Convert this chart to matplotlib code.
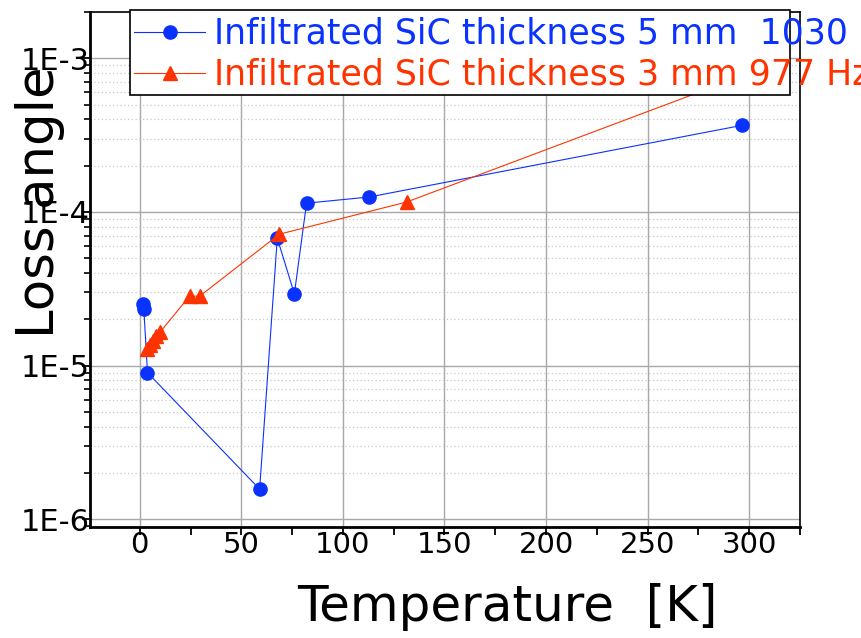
import matplotlib
matplotlib.use("Agg")
import matplotlib.pyplot as plt
from matplotlib.ticker import MultipleLocator, FixedLocator, LogLocator, NullFormatter, FixedFormatter
from matplotlib.patches import Rectangle

# ---- data ----
blue_T = [1.5, 2.0, 3.8, 59.0, 67.7, 76.1, 82.1, 112.9, 296.5]
blue_L = [2.51e-5, 2.33e-5, 9.0e-6, 1.57e-6, 6.74e-5, 2.93e-5, 1.14e-4, 1.25e-4, 3.66e-4]
red_T = [3.5, 5.0, 6.5, 8.0, 10.0, 24.5, 29.5, 68.7, 131.4, 297.0]
red_L = [1.28e-5, 1.36e-5, 1.45e-5, 1.55e-5, 1.65e-5, 2.83e-5, 2.83e-5, 7.16e-5, 1.16e-4, 7.7e-4]
blue_label = "Infiltrated SiC thickness 5 mm  1030 Hz"
red_label = "Infiltrated SiC thickness 3 mm 977 Hz"
x_ticks = [0, 50, 100, 150, 200, 250, 300]
y_ticks = [1e-6, 1e-5, 1e-4, 1e-3]
y_ticklabels = ["1E-6", "1E-5", "1E-4", "1E-3"]

BLUE = "#0a32ff"
RED = "#ff3300"

W, H = 861, 638
fig = plt.figure(figsize=(W / 100, H / 100), dpi=100)
ax = fig.add_axes([90 / W, 1 - 527 / H, (800 - 90) / W, (527 - 12) / H])

ax.plot(blue_T, blue_L, color=BLUE, lw=0.8, marker="o", ms=9.5, mec=BLUE, mfc=BLUE, label=blue_label, zorder=3)
ax.plot(red_T, red_L, color=RED, lw=0.8, marker="^", ms=10.5, mec=RED, mfc=RED, label=red_label, zorder=3)

ax.set_yscale("log")
ax.set_xlim(-24.5, 325)
ax.set_ylim(8.9e-7, 2.0e-3)

ax.xaxis.set_major_locator(FixedLocator(x_ticks))
ax.xaxis.set_minor_locator(MultipleLocator(25))
ax.yaxis.set_major_locator(FixedLocator(y_ticks))
ax.yaxis.set_major_formatter(FixedFormatter(y_ticklabels))
ax.yaxis.set_minor_locator(LogLocator(base=10, subs=range(2, 10)))
ax.yaxis.set_minor_formatter(NullFormatter())

ax.grid(True, which="major", color="#a8a8a8", lw=1.0, ls="-", zorder=0)
ax.grid(True, which="minor", axis="y", color="#c8c8c8", lw=0.9, ls=(0, (1, 2)), zorder=0)
ax.set_axisbelow(True)

ax.tick_params(axis="x", which="major", direction="out", length=6, width=1.3, pad=-3,
               labelsize=21, top=False)
ax.tick_params(axis="x", which="minor", direction="out", length=6, width=1.3, top=False)
ax.tick_params(axis="y", which="major", direction="out", length=6, width=1.3, pad=-6,
               labelsize=22, right=False)
ax.tick_params(axis="y", which="minor", direction="out", length=4, width=1.2, right=False)

for side in ["left", "bottom"]:
    ax.spines[side].set_linewidth(2.0)
for side in ["top", "right"]:
    ax.spines[side].set_linewidth(1.2)

# axis labels
fig.text(40 / W, 1 - 202 / H, "Loss angle", rotation=90, ha="center", va="center", fontsize=37)
fig.text(507 / W, 1 - 607 / H, "Temperature  [K]", ha="center", va="center", fontsize=36)

# legend box (frame narrower than the text, as in the reference)
frame = Rectangle((130 / W, 1 - 95 / H), (790 - 130) / W, (95 - 10) / H, transform=fig.transFigure,
                  facecolor="white", edgecolor="black", lw=1.2, clip_on=False, zorder=4)
ax.add_patch(frame)
leg = ax.legend(loc="upper left", bbox_to_anchor=(134 / W, 1 - 17 / H), bbox_transform=fig.transFigure,
                frameon=False, fontsize=25, handlelength=2.05, handletextpad=0.25, labelspacing=0.2,
                borderpad=0, borderaxespad=0, numpoints=1)
leg.set_zorder(5)
for t, c in zip(leg.get_texts(), [BLUE, RED]):
    t.set_color(c)

fig.savefig("out.png", dpi=100)
